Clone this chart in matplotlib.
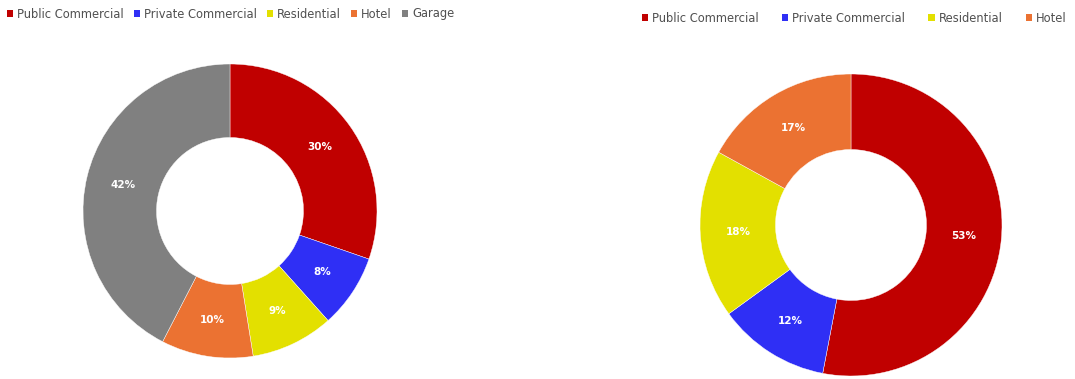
import matplotlib
matplotlib.use("Agg")
import matplotlib.pyplot as plt
from matplotlib.patches import Patch

# Share of floor area by use, two developments
left_categories = ["Public Commercial", "Private Commercial", "Residential", "Hotel", "Garage"]
left_values = [30, 8, 9, 10, 42]

right_categories = ["Public Commercial", "Private Commercial", "Residential", "Hotel"]
right_values = [53, 12, 18, 17]

palette = {
    "Public Commercial": "#C00000",
    "Private Commercial": "#2F2FF5",
    "Residential": "#E3E000",
    "Hotel": "#EB7232",
    "Garage": "#808080",
}

W, H = 1075, 379
fig = plt.figure(figsize=(W / 100, H / 100), dpi=100)
fig.patch.set_facecolor("white")


def donut(cx, cy, r, categories, values):
    ax = fig.add_axes([(cx - r) / W, (H - cy - r) / H, 2 * r / W, 2 * r / H])
    colors = [palette[c] for c in categories]
    ax.pie(
        values, colors=colors, startangle=90, counterclock=False,
        radius=1.0, wedgeprops=dict(width=0.5, edgecolor="white", linewidth=0.3),
        autopct=lambda p: f"{p:.0f}%", pctdistance=0.75,
        textprops=dict(color="white", fontsize=7.5, fontweight="bold"),
    )
    ax.set_xlim(-1, 1)
    ax.set_ylim(-1, 1)
    ax.set_aspect("equal")
    ax.axis("off")
    return ax


def legend(categories, x, y, spacing):
    handles = [Patch(facecolor=palette[c], edgecolor="none") for c in categories]
    fig.legend(handles, categories, loc="center left", bbox_to_anchor=(x / W, 1 - y / H),
               ncol=len(categories), frameon=False, fontsize=8.3,
               handlelength=0.55, handleheight=0.55, handletextpad=0.35,
               columnspacing=spacing, labelcolor="#505050", borderaxespad=0, borderpad=0)


donut(230, 211, 147, left_categories, left_values)
donut(851, 225, 151, right_categories, right_values)

legend(left_categories, 7, 14, 0.85)
legend(right_categories, 642, 18, 2.0)

fig.savefig("out.png", dpi=100, facecolor="white")
